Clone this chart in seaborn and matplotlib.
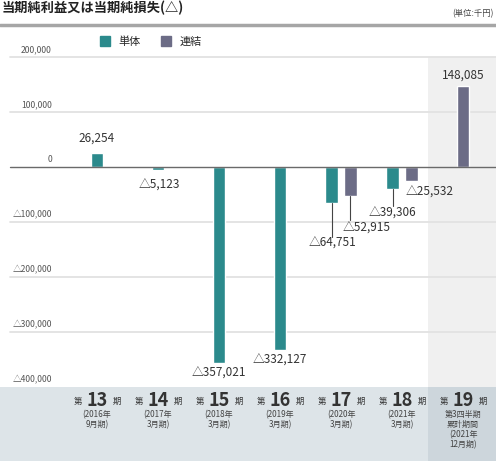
import matplotlib
matplotlib.use("Agg")
import matplotlib.pyplot as plt
from matplotlib.lines import Line2D
import numpy as np
import pandas as pd
import seaborn as sns

# data (thousand yen)
periods = ["13", "14", "15", "16", "17", "18", "19"]
period_notes = ["(2016年\n9月期)", "(2017年\n3月期)", "(2018年\n3月期)", "(2019年\n3月期)",
                "(2020年\n3月期)", "(2021年\n3月期)", "第3四半期\n累計期間\n(2021年\n12月期)"]
tantai = [26254, -5123, -357021, -332127, -64751, -39306, np.nan]
renketsu = [np.nan, np.nan, np.nan, np.nan, -52915, -25532, 148085]
series_names = ["単体", "連結"]
yticks = [200000, 100000, 0, -100000, -200000, -300000, -400000]

sns.set_theme(style="white")
plt.rcParams["font.family"] = ["Noto Sans CJK JP", "DejaVu Sans"]

W, H = 496, 461
fig = plt.figure(figsize=(W / 100, H / 100), dpi=100)
ax = fig.add_axes([0, 0, 1, 1])

# pixel mapping: category i at x = 97 + 61*i, zero at y=167, 55px per 100k
x0, dx = 97, 61
y0, dy = 167, 55 / 100000
xlim = (-x0 / dx, (W - x0) / dx)
ylim = (-(H - y0) / dy, y0 / dy)

rows = []
for i, p in enumerate(periods):
    both = not np.isnan(tantai[i]) and not np.isnan(renketsu[i])
    for s, vals, off in [(series_names[0], tantai, -0.15), (series_names[1], renketsu, 0.15)]:
        if not np.isnan(vals[i]):
            rows.append({"pos": i + (off if both else 0), "value": vals[i], "series": s, "idx": i})
df = pd.DataFrame(rows)

colors = {"単体": "#2b8a8c", "連結": "#6c6c86"}

# backgrounds
ax.axhspan(ylim[0], -400000, color="#dde4e8", zorder=0, lw=0)
x19 = (428 - x0) / dx
ax.fill_betweenx([-400000, 200000], x19, xlim[1], color="#f0f0f0", zorder=0, lw=0)
ax.fill_betweenx([ylim[0], -400000], x19, xlim[1], color="#cdd6dc", zorder=0, lw=0)

for t in yticks:
    if t == 0:
        ax.axhline(0, xmin=10 / W, color="#6a6a6a", lw=1.0, zorder=4)
    elif t > -400000:
        ax.axhline(t, xmin=10 / W, color="#e2e2e2", lw=1.3, zorder=1)
    lab = ("△" if t < 0 else "") + f"{abs(t):,}"
    ax.annotate(lab, (52 / W, t), xycoords=("axes fraction", "data"), xytext=(0, 2),
                textcoords="offset points", ha="right", va="bottom", fontsize=6.2, color="#555555")

sns.barplot(data=df, x="pos", y="value", hue="series", native_scale=True, dodge=False,
            width=0.7, palette=colors, saturation=1, errorbar=None, ax=ax, zorder=3)

ax.set_xlim(*xlim)
ax.set_ylim(*ylim)
ax.axis("off")

# value labels: (dx px, dy px, leader length px)
place = {("単体", 0): (0, -14, 0), ("単体", 1): (1, 15, 0), ("単体", 2): (0, 10, 0),
         ("単体", 3): (0, 10, 0), ("単体", 4): (1, 41, 34), ("単体", 5): (0, 25, 17),
         ("連結", 4): (16, 32, 24), ("連結", 5): (18, 11, 0), ("連結", 6): (0, -10, 0)}
for _, r in df.iterrows():
    v = r["value"]
    lab = ("△" if v < 0 else "") + f"{abs(int(v)):,}"
    ox, oy, lead = place[(r["series"], r["idx"])]
    if lead:
        ax.plot([r["pos"], r["pos"]], [v, v - lead / dy], color="#444444", lw=0.8, zorder=4)
    ax.annotate(lab, (r["pos"], v), xytext=(ox * 0.72, -oy * 0.72), textcoords="offset points",
                ha="center", va="center", fontsize=8.5, color="#333333")

# category labels
for i, p in enumerate(periods):
    ax.annotate(p, (i, -400000), xytext=(0, -13 * 0.72), textcoords="offset points",
                ha="center", va="center", fontsize=13, fontweight="bold", color="#333333")
    ax.annotate("第", (i, -400000), xytext=(-14, -14 * 0.72), textcoords="offset points",
                ha="center", va="center", fontsize=6, color="#333333")
    ax.annotate("期", (i, -400000), xytext=(14, -14 * 0.72), textcoords="offset points",
                ha="center", va="center", fontsize=6, color="#333333")
    ax.annotate(period_notes[i], (i, -400000), xytext=(0, -23 * 0.72), textcoords="offset points",
                ha="center", va="top", fontsize=5.8, color="#444444", linespacing=1.15)

# legend
handles = [Line2D([], [], marker="s", ls="", markersize=7, color=colors[s]) for s in series_names]
ax.legend(handles, series_names, loc="center left", bbox_to_anchor=(84 / W, 1 - 42 / H),
          ncol=2, frameon=False, fontsize=8, handletextpad=0.2, columnspacing=1.3)

# title, unit and top rule
fig.text(2 / W, 1 - 8 / H, "当期純利益又は当期純損失(△)", fontsize=9.5, fontweight="bold",
         color="#222222", va="center", ha="left")
fig.text(494 / W, 1 - 14 / H, "(単位:千円)", fontsize=6, color="#444444", va="center", ha="right")
fig.add_artist(Line2D([0, 1], [1 - 25 / H, 1 - 25 / H], color="#a6a6a6", lw=2.5))

fig.savefig("out.png", dpi=100)
